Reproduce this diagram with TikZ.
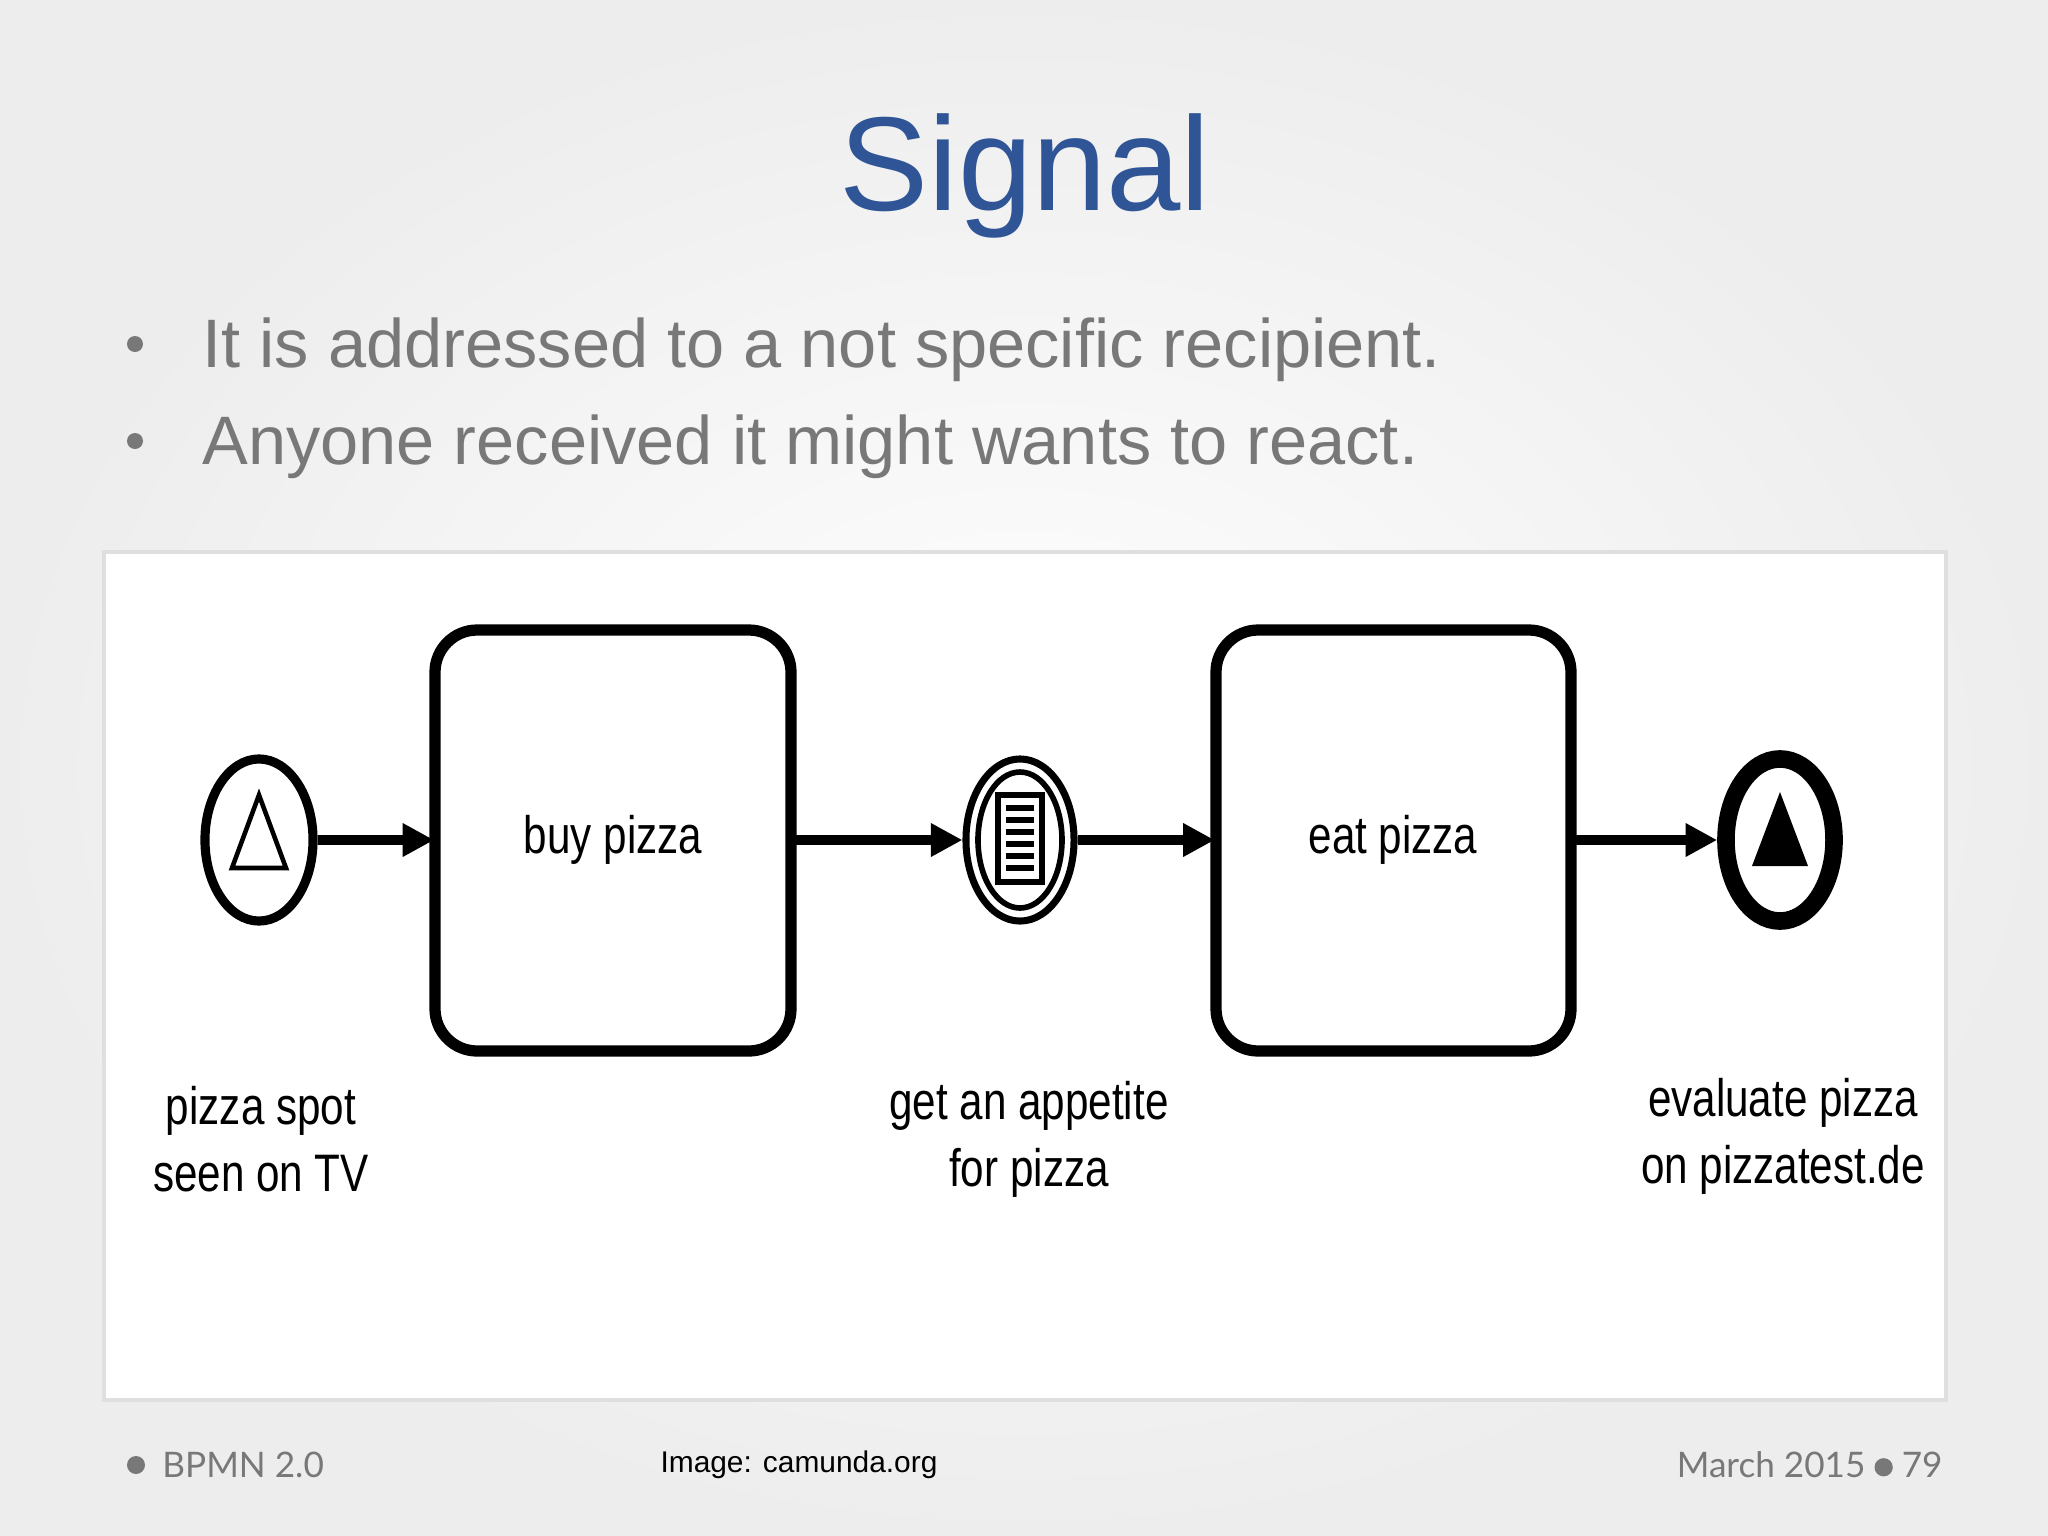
\documentclass[tikz,border=0pt]{standalone}
\usepackage{fontspec}
\setmainfont{Liberation Sans}
\newfontfamily\footfont{Lato}
\usetikzlibrary{arrows.meta,shapes.geometric}
\definecolor{titleblue}{RGB}{47,85,151}
\definecolor{bulgray}{RGB}{120,120,120}
\begin{document}
\begin{tikzpicture}[x=0.01cm,y=-0.01cm,
  task/.style={draw,line width=3.2pt,rounded corners=12pt},
  flow/.style={line width=3pt,-{Triangle[length=9pt,width=9pt]}},
  ev/.style={draw,ellipse,minimum width=1.08cm,minimum height=1.62cm,inner sep=0pt},
  lbl/.style={align=center,font=\fontsize{15}{19}\selectfont,xscale=0.8,text=black},
  ft/.style={font=\footfont\fontsize{10}{12}\selectfont,text=bulgray}]
\useasboundingbox (0,0) rectangle (2048,1536);
\shade[inner color=white,outer color=gray!14] (0,0) rectangle (2048,1536);
\node[font=\fontsize{38}{44}\selectfont,text=titleblue] (title) at (1025,176) {Signal};
\node[font=\fontsize{19.5}{24}\selectfont,text=bulgray,anchor=west] (b1) at (190,350) {It is addressed to a not specific recipient.};
\node[font=\fontsize{19.5}{24}\selectfont,text=bulgray,anchor=west] (b2) at (190,447) {Anyone received it might wants to react.};
\fill[bulgray] (135,344) circle (8) (135,441) circle (8);
\draw[gray!25,line width=1pt,fill=white] (104,552) rectangle (1946,1400);
% events and tasks
\node[ev,line width=2.6pt] (start) at (259,840) {};
\draw[line width=1.3pt,line join=miter] (259,795) -- (232,868) -- (286,868) -- cycle;
\draw[task] (435,630) rectangle (791,1051);
\node[minimum width=3.56cm,minimum height=4.21cm,inner sep=0pt] (buy) at (613,840) {};
\node[lbl] at (613,840) {buy pizza};
\node[ev,line width=2pt] (mid) at (1020,840) {};
\draw[line width=1.6pt] (1020,840) ellipse (42 and 68);
\draw[line width=1.6pt] (998,795) rectangle (1042,882);
\foreach \yy in {808,820,832,844,856,868} \draw[line width=1.8pt] (1006,\yy) -- (1034,\yy);
\draw[task] (1216,630) rectangle (1571,1051);
\node[minimum width=3.55cm,minimum height=4.21cm,inner sep=0pt] (eat) at (1393,840) {};
\node[lbl] at (1393,840) {eat pizza};
\node[ev,line width=5pt] (end) at (1780,840) {};
\fill (1780,792) -- (1752,866) -- (1808,866) -- cycle;
\draw[flow] (start) -- (buy);
\draw[flow] (buy) -- (mid);
\draw[flow] (mid) -- (eat);
\draw[flow] (eat) -- (end);
\node[lbl] (l1) at (261,1139) {pizza spot\\seen on TV};
\node[lbl] (l2) at (1029,1139) {get an appetite\\for pizza};
\node[lbl] (l3) at (1783,1136) {evaluate pizza\\on pizzatest.de};
% footer
\fill[bulgray] (136,1465) circle (9);
\node[ft,anchor=west] (f1) at (150,1465) {BPMN 2.0};
\node[font=\fontsize{8.5}{10}\selectfont,text=black] (f2) at (799,1465) {Image: camunda.org};
\node[ft,anchor=east] (f3) at (1955,1465) {March 2015 \tikz[baseline=-3pt]\fill[bulgray] (0,0) circle (2.6pt); 79};
\end{tikzpicture}
\end{document}
